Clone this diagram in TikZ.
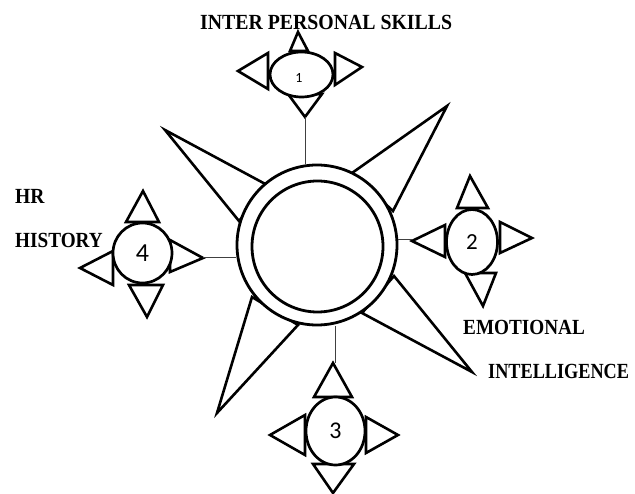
\documentclass[tikz,border=0pt]{standalone}
\usepackage{fontspec}
\setmainfont{Liberation Serif}
\newfontfamily\numfont{Carlito}
\usetikzlibrary{shapes.geometric}
\newcommand{\tallbold}[2][1]{\scalebox{#1}[1.1]{#2}}
\begin{document}
\begin{tikzpicture}[x=1pt,y=-1pt,
  ring/.style={circle,draw,line width=2.8pt,fill=white,inner sep=0pt},
  bubble/.style={ellipse,draw,line width=2.7pt,fill=white,inner sep=0pt},
  tri/.style={draw,line width=2.6pt,line join=miter,fill=white},
  spike/.style={draw,line width=2.6pt,line join=miter,fill=white},
  link/.style={draw=black!75,line width=1pt},
  lab/.style={anchor=base west,inner sep=0pt,font=\fontsize{19.6}{20}\selectfont\bfseries},
  num/.style={font=\numfont}]
\useasboundingbox (0,0) rectangle (635,494);
% spikes
\path[spike] (269,186) -- (165,130) -- (239,221) -- cycle;
\path[spike] (352,173) -- (447,106) -- (393,211) -- cycle;
\path[spike] (394,276) -- (472,372) -- (362,313) -- cycle;
\path[spike] (252,297) -- (217,413) -- (298,325) -- cycle;
% central ring
\node[ring,minimum width=160pt,minimum height=158pt] (outer) at (317,245) {};
\node[ring,minimum width=131pt,minimum height=131pt] (inner) at (317.5,246.5) {};
% node 1
\path[tri] (290,51) -- (298,32) -- (308,51) -- cycle;
\path[tri] (268,53) -- (238,71) -- (268,89) -- cycle;
\path[tri] (335,53) -- (362,67) -- (335,85) -- cycle;
\path[tri] (288,94) -- (305,117) -- (322,94) -- cycle;
\node[bubble,minimum width=63pt,minimum height=45pt] (n1) at (301.5,74.5) {};
\node[num,font=\numfont\fontsize{14}{14}\selectfont] at (299,78) {1};
\coordinate (a1) at (305,117);
\draw[link] (a1) -- (a1 |- outer.north);
% node 2
\path[tri] (457,208) -- (470,176) -- (488,208) -- cycle;
\path[tri] (445,225) -- (412,241) -- (445,257) -- cycle;
\path[tri] (500,222) -- (532,238) -- (500,253) -- cycle;
\path[tri] (465,273) -- (483,306) -- (496,273) -- cycle;
\node[bubble,minimum width=51pt,minimum height=65pt] (n2) at (472,242) {};
\node[num,font=\numfont\fontsize{23}{23}\selectfont] at (n2) {2};
\coordinate (a2) at (412,240);
\draw[link] (a2) -- (a2 -| outer.east);
% node 3
\path[tri] (314,397) -- (333,363) -- (352,397) -- cycle;
\path[tri] (305,415) -- (270,435) -- (305,455) -- cycle;
\path[tri] (366,417) -- (398,435) -- (366,453) -- cycle;
\path[tri] (313,464) -- (333,493) -- (354,464) -- cycle;
\node[bubble,minimum width=59pt,minimum height=68pt] (n3) at (335.5,431) {};
\node[num,font=\numfont\fontsize{24}{24}\selectfont] at (n3) {3};
\coordinate (a3) at (335,363);
\draw[link] (a3) -- (a3 |- outer.south);
% node 4
\path[tri] (126,222) -- (143,191) -- (159,222) -- cycle;
\path[tri] (113,251) -- (80,268) -- (113,285) -- cycle;
\path[tri] (170,240) -- (203,258) -- (170,272) -- cycle;
\path[tri] (129,285) -- (147,317) -- (163,285) -- cycle;
\node[bubble,minimum width=59pt,minimum height=60pt] (n4) at (142.5,253) {};
\node[num,font=\numfont\fontsize{26}{26}\selectfont] at (n4) {4};
\coordinate (a4) at (203,258);
\draw[link] (a4) -- (a4 -| outer.west);
% labels
\node[lab] (l1) at (200,30) {\tallbold[1.01]{INTER PERSONAL SKILLS}};
\node[lab] (l4a) at (15,204) {\tallbold{HR}};
\node[lab] (l4b) at (15,248) {\tallbold[0.98]{HISTORY}};
\node[lab] (l2a) at (463,335) {\tallbold[0.98]{EMOTIONAL}};
\node[lab] (l2b) at (488,379) {\tallbold[0.93]{INTELLIGENCE}};
\end{tikzpicture}
\end{document}
